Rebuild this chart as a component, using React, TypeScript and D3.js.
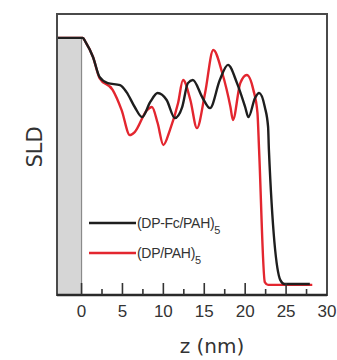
import React from "react";
import * as d3 from "d3";

const W = 337;
const H = 360;

// z (nm) and SLD (arbitrary units) for each profile
const fcZ = [-3, 0.15, 0.5, 1.4, 2.2, 3.2, 4.7, 5.5, 6.5, 7.4, 8.4, 9.3, 10.4, 11.4, 12.3, 13.0, 13.6, 14.8, 15.7, 16.9, 17.9, 19.0, 20.0, 20.4, 21.2, 21.7, 22.4, 22.8, 22.9, 24.3, 24.8, 27.9];
const fcSLD = [9.15, 9.15, 9.0, 8.47, 7.76, 7.54, 7.47, 7.22, 6.69, 6.33, 6.87, 7.19, 6.94, 6.30, 6.69, 7.54, 7.65, 7.01, 6.65, 7.65, 8.19, 7.54, 6.69, 6.33, 7.01, 7.19, 6.69, 5.98, 5.16, 0.53, 0.39, 0.39];

const dpZ = [-3, 0.15, 0.5, 1.4, 2.2, 3.8, 4.9, 5.9, 6.5, 8.0, 8.6, 9.3, 10.0, 10.8, 11.8, 12.4, 13.3, 14.1, 15.1, 16.1, 17.2, 18.2, 18.5, 19.4, 20.2, 21.0, 21.5, 21.7, 22.4, 22.8, 28.2];
const dpSLD = [9.15, 9.15, 9.0, 8.47, 7.72, 7.30, 6.58, 5.69, 5.80, 6.58, 6.69, 6.12, 5.34, 5.87, 6.83, 7.65, 6.94, 5.94, 7.19, 8.72, 7.90, 6.69, 6.23, 7.54, 7.83, 7.30, 6.48, 5.16, 0.46, 0.36, 0.36];

const majorTicks = [0, 5, 10, 15, 20, 25, 30];
const minorTicks = [2.5, 7.5, 12.5, 17.5, 22.5, 27.5];
const substrateZ = [-3, 0];
const substrateSLD = 9.15;

const seriesNames = ["(DP-Fc/PAH)", "(DP/PAH)"];
const seriesColors = ["#1e1e1e", "#e3262f"];

const left = 57, right = 327, top = 14, bottom = 295;

export default function App() {
  const x = d3.scaleLinear().domain([-3, 30]).range([left, right]);
  const y = d3.scaleLinear().domain([0, 10]).range([bottom, top]);

  const mk = (zs: number[], vs: number[]) =>
    d3
      .line<number>()
      .x((_, i) => x(zs[i]))
      .y((v) => y(v))
      .curve(d3.curveMonotoneX)(vs) as string;

  const fcPath = mk(fcZ, fcSLD);
  const dpPath = mk(dpZ, dpSLD);

  const font = "'Liberation Sans', Arial, sans-serif";

  return (
    <svg
      width={W}
      height={H}
      style={{ position: "absolute", left: 0, top: 0, background: "#fff" }}
    >
      {/* substrate */}
      <rect
        x={x(substrateZ[0])}
        y={y(substrateSLD)}
        width={x(substrateZ[1]) - x(substrateZ[0])}
        height={bottom - y(substrateSLD)}
        fill="#d6d6d6"
      />
      <line
        x1={x(0)}
        x2={x(0)}
        y1={y(substrateSLD)}
        y2={bottom}
        stroke="#8a8a8a"
        strokeWidth={1.2}
      />

      {/* profiles */}
      <path d={dpPath} fill="none" stroke={seriesColors[1]} strokeWidth={2.4} strokeLinejoin="round" />
      <path d={fcPath} fill="none" stroke={seriesColors[0]} strokeWidth={2.4} strokeLinejoin="round" />

      {/* frame */}
      <rect
        x={left}
        y={top}
        width={right - left}
        height={bottom - top}
        fill="none"
        stroke="#4a4a4a"
        strokeWidth={2}
      />
      <line x1={left} x2={right} y1={bottom} y2={bottom} stroke="#2a2a2a" strokeWidth={2.6} />

      {/* ticks */}
      {majorTicks.filter((t) => t < 30).map((t) => (
        <line key={"M" + t} x1={x(t)} x2={x(t)} y1={bottom} y2={bottom - 12} stroke="#333" strokeWidth={1.6} />
      ))}
      {minorTicks.map((t) => (
        <line key={"m" + t} x1={x(t)} x2={x(t)} y1={bottom} y2={bottom - 6} stroke="#333" strokeWidth={1.6} />
      ))}
      {majorTicks.map((t) => (
        <text
          key={"l" + t}
          x={x(t)}
          y={317}
          textAnchor="middle"
          fontFamily={font}
          fontSize={17}
          fill="#333"
        >
          {t}
        </text>
      ))}

      {/* axis labels */}
      <text x={212} y={353} textAnchor="middle" fontFamily="'DejaVu Sans', sans-serif" fontSize={20} fill="#333">
        z (nm)
      </text>
      <text
        transform="translate(42,147) rotate(-90)"
        textAnchor="middle"
        fontFamily="'DejaVu Sans', sans-serif"
        fontSize={21}
        fill="#333"
      >
        SLD
      </text>

      {/* legend */}
      {seriesNames.map((name, i) => {
        const ly = 223 + i * 30;
        return (
          <g key={name}>
            <line x1={89} x2={136} y1={ly} y2={ly} stroke={seriesColors[i]} strokeWidth={2.4} />
            <text x={137} y={ly + 5} fontFamily={font} fontSize={14} fill="#333" letterSpacing={-0.3}>
              {name}
              <tspan dy={6} fontSize={11}>5</tspan>
            </text>
          </g>
        );
      })}
    </svg>
  );
}
